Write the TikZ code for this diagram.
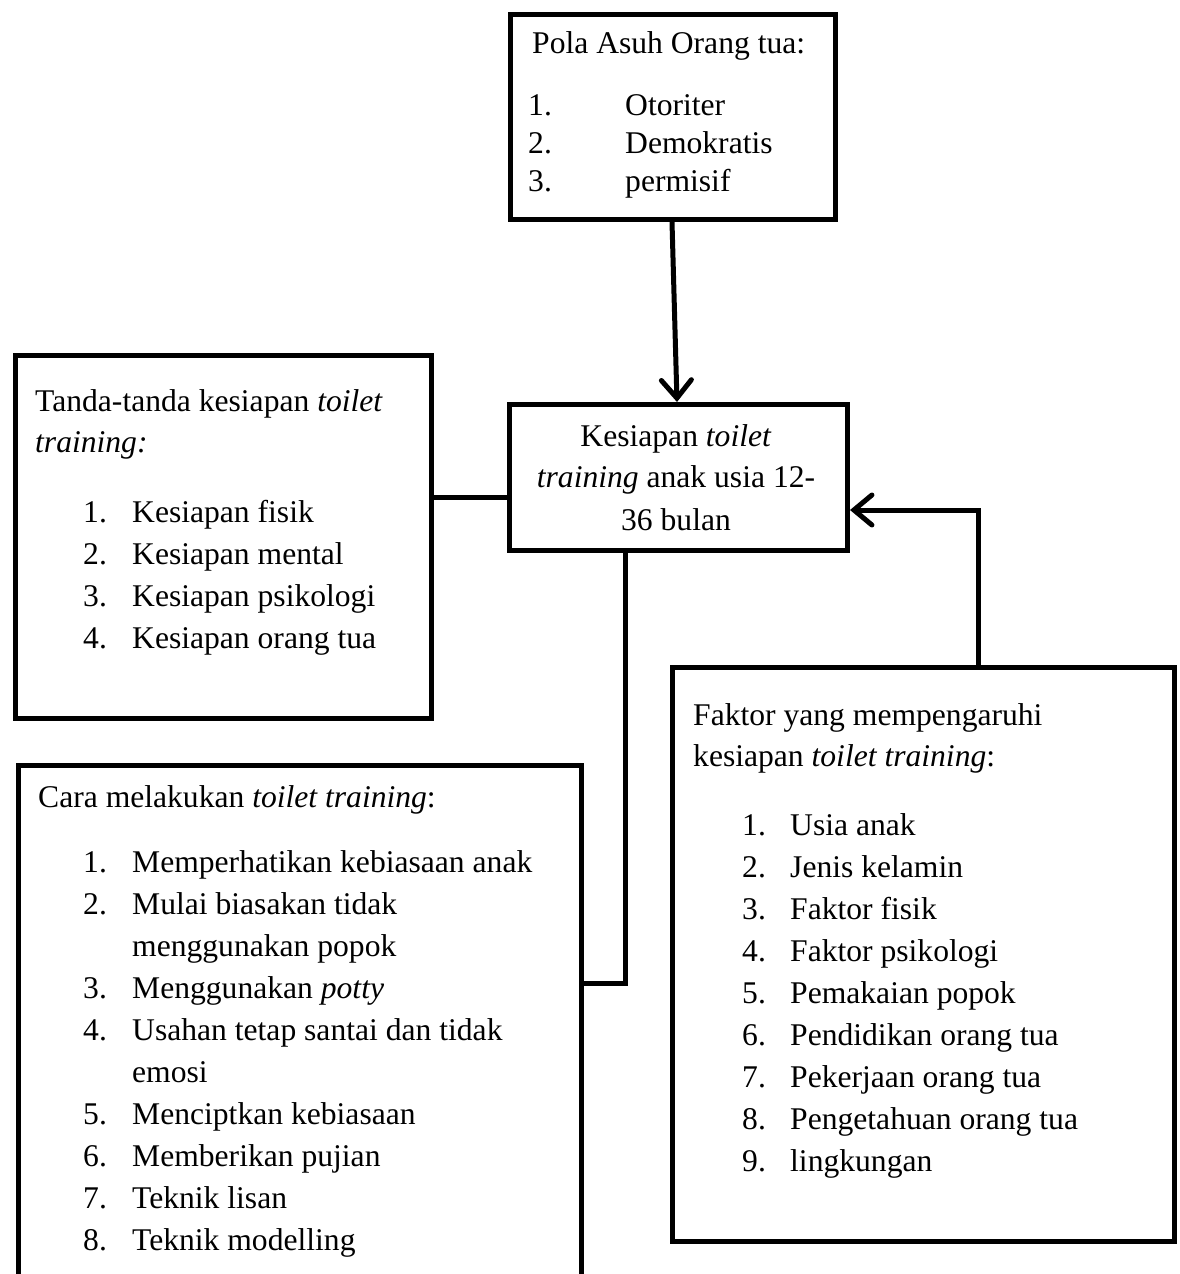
\documentclass[tikz,border=0pt]{standalone}
\usepackage{fontspec}
\setmainfont{Liberation Serif}
\usetikzlibrary{arrows.meta}
\begin{document}
\begin{tikzpicture}[x=1pt,y=-1pt,
  box/.style={draw, line width=5pt, rectangle, inner sep=0pt, anchor=north west},
  txt/.style={anchor=base west, inner sep=0pt, font=\fontsize{31.6}{42}\selectfont},
  ctxt/.style={anchor=base, inner sep=0pt, font=\fontsize{31.6}{42}\selectfont},
  conn/.style={line width=5pt},
  arr/.style={line width=5pt, -{Straight Barb[length=18pt,width=30pt,line cap=round]}}
]
\useasboundingbox (0,0) rectangle (1179,1274);
% boxes
\node[box, minimum width=325pt, minimum height=205pt] (pola) at (508,12) {};
\node[box, minimum width=338pt, minimum height=146pt] (pusat) at (507,402) {};
\node[box, minimum width=416pt, minimum height=363pt] (tanda) at (13,353) {};
\node[box, minimum width=563pt, minimum height=560pt] (cara) at (16,763) {};
\node[box, minimum width=502pt, minimum height=574pt] (faktor) at (670,665) {};
% pola text
\node[txt] (p0) at (532,53) {Pola Asuh Orang tua:};
\foreach \n/\t [count=\k from 0] in {1./Otoriter,2./Demokratis,3./permisif}{
  \node[txt] (pn\k) at (528,115+38*\k) {\n};
  \node[txt] (pt\k) at (625,115+38*\k) {\t};
}
% center text
\node[ctxt] (c1) at (676,446) {Kesiapan \textit{toilet}};
\node[ctxt] (c2) at (676,487) {\textit{training} anak usia 12-};
\node[ctxt] (c3) at (676,530) {36 bulan};
% tanda text
\node[txt] (t0) at (35,411) {Tanda-tanda kesiapan \textit{toilet}};
\node[txt] (t1) at (35,452) {\textit{training:}};
\foreach \t [count=\k from 0] in {Kesiapan fisik,Kesiapan mental,Kesiapan psikologi,Kesiapan orang tua}{
  \pgfmathtruncatemacro\num{\k+1}
  \node[txt] (tn\k) at (83,522+42.1*\k) {\num.};
  \node[txt] (tt\k) at (132,522+42.1*\k) {\t};
}
% cara text
\node[txt] (k0) at (38,807) {Cara melakukan \textit{toilet training}:};
\foreach \n/\t [count=\k from 0] in {1./Memperhatikan kebiasaan anak,2./Mulai biasakan tidak,/menggunakan popok,3./Menggunakan \textit{potty},4./Usahan tetap santai dan tidak,/emosi,5./Menciptkan kebiasaan,6./Memberikan pujian,7./Teknik lisan,8./Teknik modelling}{
  \node[txt] (kn\k) at (83,872+42.1*\k) {\n};
  \node[txt] (kt\k) at (132,872+42.1*\k) {\t};
}
% faktor text
\node[txt] (f0) at (693,725) {Faktor yang mempengaruhi};
\node[txt] (f1) at (693,766) {kesiapan \textit{toilet training}:};
\foreach \t [count=\k from 0] in {Usia anak,Jenis kelamin,Faktor fisik,Faktor psikologi,Pemakaian popok,Pendidikan orang tua,Pekerjaan orang tua,Pengetahuan orang tua,lingkungan}{
  \pgfmathtruncatemacro\num{\k+1}
  \node[txt] (fn\k) at (742,835+42.1*\k) {\num.};
  \node[txt] (ft\k) at (790,835+42.1*\k) {\t};
}
% connectors
\draw[arr] (pola.south -| 672,0) -- (pusat.north -| 677,0);
\draw[conn] (tanda.east |- 0,497) -- (pusat.west |- 0,497);
\coordinate (bend1) at (625,983);
\draw[conn] (pusat.south -| bend1) -- (bend1) -- (cara.east |- bend1);
\coordinate (bend2) at (978,510);
\draw[arr] (faktor.north -| bend2) -- (bend2) -- (pusat.east |- bend2);
\end{tikzpicture}
\end{document}
